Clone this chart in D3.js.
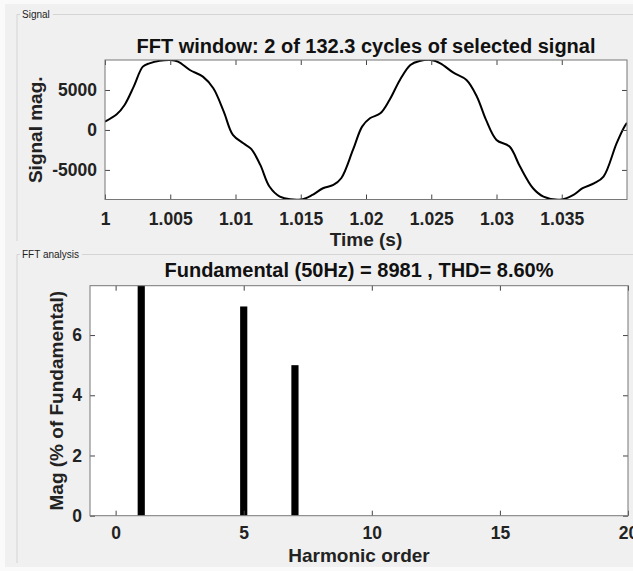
<!DOCTYPE html>
<html>
<head>
<meta charset="utf-8">
<script src="https://cdn.jsdelivr.net/npm/d3@7"></script>
<style>
  html, body { margin: 0; padding: 0; background: #fafafa; }
  svg { display: block; }
  text { font-family: "Liberation Sans", Arial, Helvetica, sans-serif; }
</style>
</head>
<body>
<svg id="chart" width="633" height="571"></svg>
<script>
// ---- Data ----
const signalTimes = [1.0000,1.0009,1.0015,1.0022,1.0029,1.0034,1.0050,1.0056,1.0065,1.0075,1.0083,1.0091,1.0098,1.0106,1.0112,1.0119,1.0126,1.0134,1.0150,1.0159,1.0167,1.0175,1.0181,1.0190,1.0197,1.0203,1.0211,1.0218,1.0226,1.0234,1.0241,1.0250,1.0257,1.0267,1.0277,1.0285,1.0292,1.0300,1.0310,1.0318,1.0328,1.0336,1.0350,1.0359,1.0366,1.0375,1.0382,1.0392,1.0398,1.0400];
const signalValues = [1040,1960,3125,5420,7920,8330,8750,8540,7500,6670,5210,2290,-625,-1670,-2375,-4375,-7080,-8330,-8700,-8125,-7290,-6875,-6040,-2500,415,1460,2080,3750,6250,8125,8625,8750,8330,7160,6250,4160,1250,-1250,-2080,-4580,-7290,-8330,-8700,-8125,-7290,-6660,-5830,-1670,415,900];
const timeTicks = [1, 1.005, 1.01, 1.015, 1.02, 1.025, 1.03, 1.035];
const timeTickLabels = ["1", "1.005", "1.01", "1.015", "1.02", "1.025", "1.03", "1.035"];
const signalTicks = [-5000, 0, 5000];
const signalTickLabels = ["-5000", "0", "5000"];

const harmonicOrders = [0,1,2,3,4,5,6,7,8,9,10,11,12,13,14,15,16,17,18,19,20];
const harmonicMags   = [0,100,0,0,0,6.95,0,5.0,0,0,0,0,0,0,0,0,0,0,0,0,0];
const harmonicTicks = [0, 5, 10, 15, 20];
const harmonicTickLabels = ["0", "5", "10", "15", "20"];
const magTicks = [0, 2, 4, 6];
const magTickLabels = ["0", "2", "4", "6"];

const topTitle = "FFT window: 2 of 132.3 cycles of selected signal";
const bottomTitle = "Fundamental (50Hz) = 8981 , THD= 8.60%";

// ---- Drawing ----
const svg = d3.select("#chart");
const W = 633, H = 571;

// panel background
svg.append("rect").attr("x", 5).attr("y", 4).attr("width", W - 5).attr("height", 563).attr("fill", "#f0f0f0");

// group boxes
function groupBox(label, y, yEnd, lineEndTop) {
  const g = svg.append("g");
  g.append("line").attr("x1", 17).attr("x2", 17).attr("y1", y).attr("y2", yEnd)
    .attr("stroke", "#d4d4d4").attr("stroke-width", 1);
  g.append("line").attr("x1", 17).attr("x2", 20).attr("y1", y).attr("y2", y)
    .attr("stroke", "#d4d4d4");
  const t = g.append("text").attr("x", 22).attr("y", y + 3.5).attr("font-size", 10)
    .attr("fill", "#222").text(label);
  const w = t.node().getComputedTextLength();
  g.append("line").attr("x1", 22 + w + 3).attr("x2", W).attr("y1", y).attr("y2", y)
    .attr("stroke", "#d4d4d4");
}
groupBox("Signal", 14.5, 241);
groupBox("FFT analysis", 254.5, 563);

const fontTick = 17.5, fontLabel = 19, fontTitle = 20;

function styleAxis(g, withText) {
  g.select(".domain").remove();
  g.selectAll(".tick line").attr("stroke", "#444").attr("stroke-width", 1);
  g.selectAll(".tick text").attr("fill", "#222").attr("font-size", fontTick)
    .attr("font-weight", "bold").attr("font-family", '"Liberation Sans", Arial, sans-serif');
  if (!withText) g.selectAll(".tick text").remove();
}

// ---- Top: signal ----
const t1 = {left: 105, right: 627, top: 60, bottom: 199.5};
const x1 = d3.scaleLinear().domain([1, 1.04]).range([t1.left, t1.right]);
const y1 = d3.scaleLinear().domain([-8700, 8750]).range([t1.bottom, t1.top]);

svg.append("rect").attr("x", t1.left).attr("y", t1.top)
  .attr("width", t1.right - t1.left).attr("height", t1.bottom - t1.top).attr("fill", "#fff");

svg.append("defs").append("clipPath").attr("id", "clip1").append("rect")
  .attr("x", t1.left).attr("y", t1.top).attr("width", t1.right - t1.left).attr("height", t1.bottom - t1.top);

const sigData = signalTimes.map((t, i) => ({t, v: signalValues[i]}));
svg.append("path").datum(sigData)
  .attr("clip-path", "url(#clip1)")
  .attr("fill", "none").attr("stroke", "#000").attr("stroke-width", 2)
  .attr("d", d3.line().x(d => x1(d.t)).y(d => y1(d.v)).curve(d3.curveCatmullRom.alpha(0.5)));

let g;
g = svg.append("g").attr("transform", `translate(0,${t1.bottom})`)
  .call(d3.axisBottom(x1).tickValues(timeTicks).tickFormat((d, i) => timeTickLabels[i]).tickSizeInner(-5).tickSizeOuter(0).tickPadding(13));
styleAxis(g, true);
g = svg.append("g").attr("transform", `translate(0,${t1.top})`)
  .call(d3.axisTop(x1).tickValues(timeTicks).tickSizeInner(-5).tickSizeOuter(0));
styleAxis(g, false);
g = svg.append("g").attr("transform", `translate(${t1.left},0)`)
  .call(d3.axisLeft(y1).tickValues(signalTicks).tickFormat((d, i) => signalTickLabels[i]).tickSizeInner(-5).tickSizeOuter(0).tickPadding(8));
styleAxis(g, true);
g = svg.append("g").attr("transform", `translate(${t1.right},0)`)
  .call(d3.axisRight(y1).tickValues(signalTicks).tickSizeInner(-5).tickSizeOuter(0));
styleAxis(g, false);

svg.append("rect").attr("x", t1.left).attr("y", t1.top)
  .attr("width", t1.right - t1.left).attr("height", t1.bottom - t1.top)
  .attr("fill", "none").attr("stroke", "#777").attr("stroke-width", 1);

svg.append("text").attr("x", (t1.left + t1.right) / 2).attr("y", 53)
  .attr("text-anchor", "middle").attr("font-size", fontTitle).attr("font-weight", "bold")
  .attr("fill", "#111").text(topTitle);
svg.append("text").attr("x", (t1.left + t1.right) / 2).attr("y", 246)
  .attr("text-anchor", "middle").attr("font-size", fontLabel).attr("font-weight", "bold")
  .attr("fill", "#222").text("Time (s)");
svg.append("text").attr("transform", `translate(42,${(t1.top + t1.bottom) / 2}) rotate(-90)`)
  .attr("text-anchor", "middle").attr("font-size", fontLabel).attr("font-weight", "bold")
  .attr("fill", "#222").text("Signal mag.");

// ---- Bottom: FFT ----
const t2 = {left: 90, right: 628, top: 285.7, bottom: 515.7};
const x2 = d3.scaleLinear().domain([-1, 20]).range([t2.left, t2.right]);
const y2 = d3.scaleLinear().domain([0, 7.64]).range([t2.bottom, t2.top]);

svg.append("rect").attr("x", t2.left).attr("y", t2.top)
  .attr("width", t2.right - t2.left).attr("height", t2.bottom - t2.top).attr("fill", "#fff");
svg.select("defs").append("clipPath").attr("id", "clip2").append("rect")
  .attr("x", t2.left).attr("y", t2.top).attr("width", t2.right - t2.left).attr("height", t2.bottom - t2.top);

const barW = 0.28;
svg.append("g").attr("clip-path", "url(#clip2)")
  .selectAll("rect").data(harmonicOrders.map((h, i) => ({h, m: harmonicMags[i]})).filter(d => d.m > 0))
  .join("rect")
  .attr("x", d => x2(d.h - barW / 2))
  .attr("width", d => x2(d.h + barW / 2) - x2(d.h - barW / 2))
  .attr("y", d => y2(d.m))
  .attr("height", d => y2(0) - y2(d.m))
  .attr("fill", "#000");

g = svg.append("g").attr("transform", `translate(0,${t2.bottom})`)
  .call(d3.axisBottom(x2).tickValues(harmonicTicks).tickFormat((d, i) => harmonicTickLabels[i]).tickSizeInner(-5).tickSizeOuter(0).tickPadding(10.5));
styleAxis(g, true);
g = svg.append("g").attr("transform", `translate(0,${t2.top})`)
  .call(d3.axisTop(x2).tickValues(harmonicTicks).tickSizeInner(-5).tickSizeOuter(0));
styleAxis(g, false);
g = svg.append("g").attr("transform", `translate(${t2.left},0)`)
  .call(d3.axisLeft(y2).tickValues(magTicks).tickFormat((d, i) => magTickLabels[i]).tickSizeInner(-5).tickSizeOuter(0).tickPadding(8));
styleAxis(g, true);
g = svg.append("g").attr("transform", `translate(${t2.right},0)`)
  .call(d3.axisRight(y2).tickValues(magTicks).tickSizeInner(-5).tickSizeOuter(0));
styleAxis(g, false);

svg.append("rect").attr("x", t2.left).attr("y", t2.top)
  .attr("width", t2.right - t2.left).attr("height", t2.bottom - t2.top)
  .attr("fill", "none").attr("stroke", "#777").attr("stroke-width", 1);

svg.append("text").attr("x", (t2.left + t2.right) / 2).attr("y", 277)
  .attr("text-anchor", "middle").attr("font-size", fontTitle).attr("font-weight", "bold")
  .attr("fill", "#111").text(bottomTitle);
svg.append("text").attr("x", (t2.left + t2.right) / 2).attr("y", 562)
  .attr("text-anchor", "middle").attr("font-size", fontLabel).attr("font-weight", "bold")
  .attr("fill", "#222").text("Harmonic order");
svg.append("text").attr("transform", `translate(63,${(t2.top + t2.bottom) / 2}) rotate(-90)`)
  .attr("text-anchor", "middle").attr("font-size", fontLabel).attr("font-weight", "bold")
  .attr("fill", "#222").text("Mag (% of Fundamental)");
</script>
</body>
</html>
